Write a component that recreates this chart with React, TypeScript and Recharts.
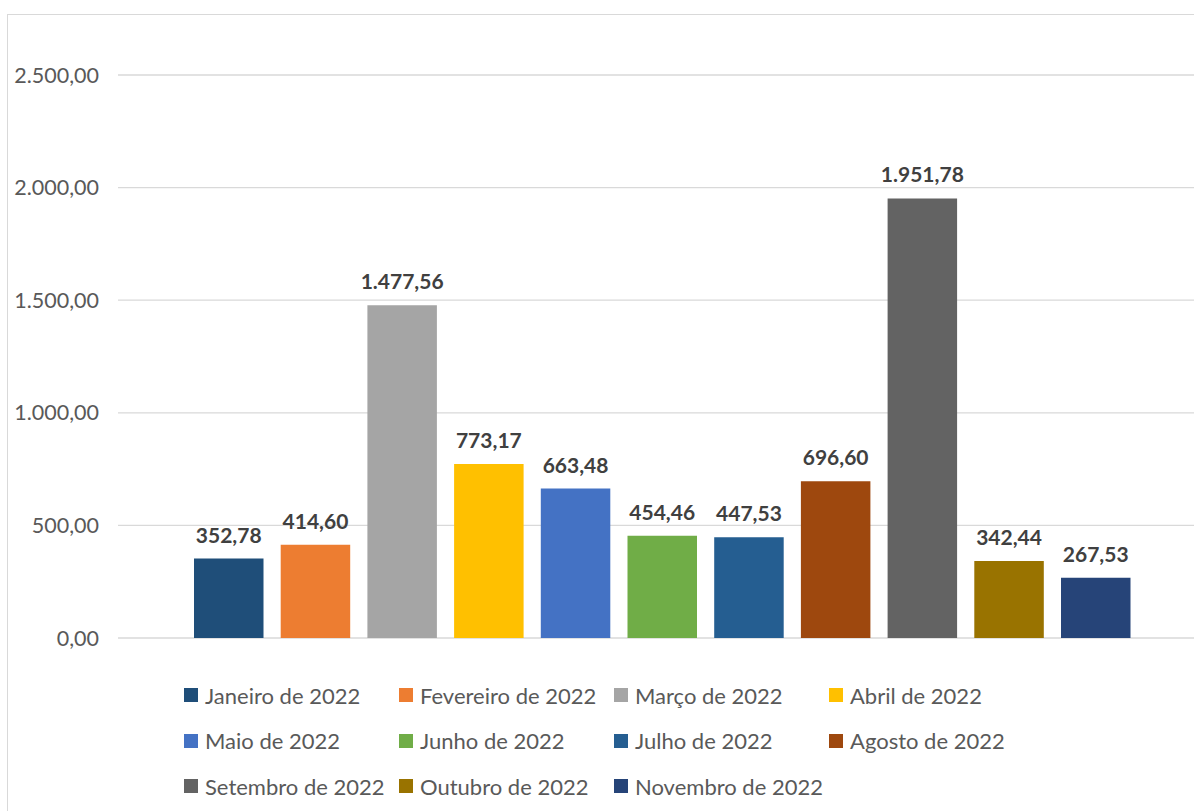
import React from "react";
import { BarChart, Bar, XAxis, YAxis, CartesianGrid, Legend, LabelList } from "recharts";

const months = [
  "Janeiro de 2022",
  "Fevereiro de 2022",
  "Março de 2022",
  "Abril de 2022",
  "Maio de 2022",
  "Junho de 2022",
  "Julho de 2022",
  "Agosto de 2022",
  "Setembro de 2022",
  "Outubro de 2022",
  "Novembro de 2022",
];
const values = [352.78, 414.6, 1477.56, 773.17, 663.48, 454.46, 447.53, 696.6, 1951.78, 342.44, 267.53];
const colors = [
  "#1f4e79",
  "#ed7d31",
  "#a5a5a5",
  "#ffc000",
  "#4472c4",
  "#70ad47",
  "#255e91",
  "#9e480e",
  "#636363",
  "#997300",
  "#264478",
];
const yTicks = [0, 500, 1000, 1500, 2000, 2500];

const FONT = "Lato, 'Liberation Sans', sans-serif";

const row: Record<string, any> = { name: "" };
months.forEach((m, i) => {
  row[m] = values[i];
});
const data = [row];

function fmt(v: number): string {
  const fixed = Math.abs(v).toFixed(2);
  const [intPart, dec] = fixed.split(".");
  const withDots = intPart.replace(/\B(?=(\d{3})+(?!\d))/g, ".");
  return (v < 0 ? "-" : "") + withDots + "," + dec;
}

function LegendContent(props: any) {
  const payload = [...(props.payload || [])].sort(
    (a: any, b: any) => months.indexOf(a.value) - months.indexOf(b.value)
  );
  return (
    <div
      style={{
        height: 173,
        boxSizing: "border-box",
        paddingTop: 43,
        paddingLeft: 184,
        display: "grid",
        gridTemplateColumns: "215px 215px 215px 215px",
        gridAutoRows: "45.5px",
        fontFamily: FONT,
        fontSize: 22,
        color: "#595959",
      }}
    >
      {payload.map((p: any, i: number) => (
        <div key={i} style={{ display: "flex", alignItems: "center", height: 28, whiteSpace: "nowrap" }}>
          <span
            style={{
              display: "inline-block",
              width: 14,
              height: 14,
              background: p.color,
              marginRight: 7,
              flexShrink: 0,
            }}
          />
          <span>{p.value}</span>
        </div>
      ))}
    </div>
  );
}

export default function App() {
  return (
    <div
      style={{
        position: "absolute",
        left: 0,
        top: 0,
        width: 1194,
        height: 811,
        overflow: "hidden",
        background: "#fff",
      }}
    >
      <div
        style={{
          position: "absolute",
          left: 7,
          top: 14,
          width: 1400,
          height: 1000,
          border: "1px solid #d9d9d9",
        }}
      />
      <div style={{ position: "absolute", left: 0, top: 0 }}>
        <BarChart
          width={1194}
          height={811}
          data={data}
          margin={{ top: 75, right: 0, bottom: 0, left: 0 }}
          barGap={17.2}
        >
          <CartesianGrid vertical={false} stroke="#d9d9d9" strokeWidth={1.3} />
          <XAxis dataKey="name" hide padding={{ left: 13, right: 0 }} />
          <YAxis
            width={118}
            domain={[0, 2500]}
            ticks={yTicks}
            axisLine={false}
            tickLine={false}
            tickSize={0}
            tickMargin={19}
            tickFormatter={(v: number) => fmt(v)}
            tick={{ fill: "#595959", fontSize: 21.5, fontFamily: FONT }}
            interval={0}
          />
          <Legend verticalAlign="bottom" height={173} content={<LegendContent />} />
          {months.map((m, i) => (
            <Bar key={m} dataKey={m} fill={colors[i]} barSize={69.5} isAnimationActive={false}>
              <LabelList
                dataKey={m}
                position="top"
                offset={16}
                formatter={(v: any) => fmt(Number(v))}
                style={{ fill: "#404040", fontWeight: "bold", fontSize: 21, fontFamily: FONT }}
              />
            </Bar>
          ))}
        </BarChart>
      </div>
    </div>
  );
}
